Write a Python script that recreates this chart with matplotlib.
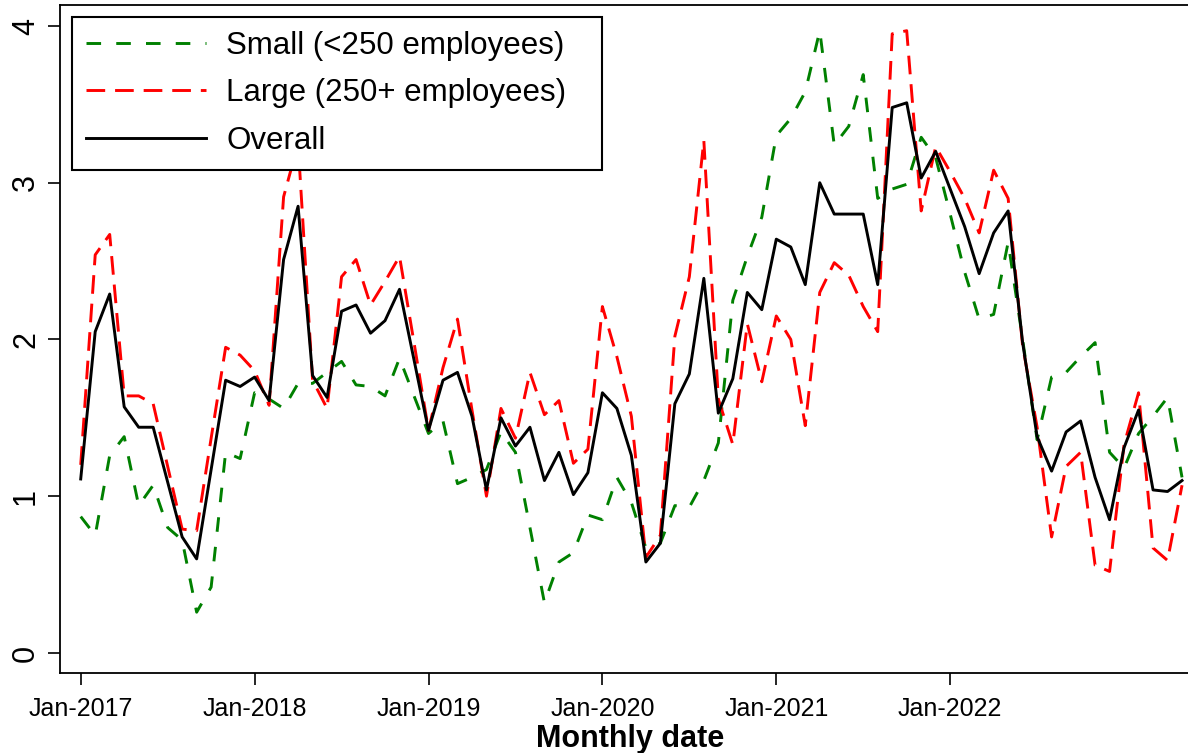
import matplotlib
matplotlib.use("Agg")
import matplotlib.pyplot as plt
import numpy as np
import pandas as pd

plt.rcParams["font.family"] = ["Liberation Sans", "DejaVu Sans"]

months = pd.period_range("2017-01", periods=77, freq="M")

small = [0.87, 0.75, 1.26, 1.38, 0.94, 1.07, 0.80, 0.72, 0.26, 0.42, 1.28, 1.24,
         1.66, 1.62, 1.56, 1.72, 1.72, 1.79, 1.86, 1.71, 1.70, 1.64, 1.88, 1.64,
         1.40, 1.48, 1.08, 1.12, 1.17, 1.41, 1.28, 0.80, 0.32, 0.58, 0.64, 0.88,
         0.85, 1.12, 0.96, 0.67, 0.70, 0.94, 0.93, 1.10, 1.34, 2.25, 2.53, 2.78,
         3.30, 3.41, 3.58, 3.97, 3.24, 3.36, 3.69, 2.90, 2.96, 2.99, 3.29, 3.16,
         2.80, 2.43, 2.13, 2.16, 2.62, 2.00, 1.36, 1.76, 1.79, 1.89, 1.98, 1.28,
         1.18, 1.40, 1.51, 1.63, 1.12]

large = [1.20, 2.54, 2.67, 1.64, 1.64, 1.59, 1.19, 0.79, 0.78, 1.37, 1.95, 1.90,
         1.80, 1.58, 2.91, 3.25, 1.74, 1.56, 2.40, 2.51, 2.22, 2.37, 2.53, 1.98,
         1.42, 1.82, 2.13, 1.55, 1.00, 1.56, 1.37, 1.79, 1.52, 1.61, 1.21, 1.30,
         2.21, 1.89, 1.51, 0.61, 0.75, 2.02, 2.40, 3.27, 1.62, 1.33, 2.10, 1.73,
         2.15, 2.00, 1.45, 2.30, 2.49, 2.41, 2.21, 2.05, 3.95, 3.97, 2.82, 3.23,
         3.07, 2.90, 2.68, 3.08, 2.90, 1.96, 1.44, 0.74, 1.19, 1.28, 0.56, 0.52,
         1.33, 1.66, 0.67, 0.59, 1.07]

overall = [1.11, 2.05, 2.29, 1.57, 1.44, 1.44, 1.09, 0.74, 0.60, 1.17, 1.74, 1.70,
           1.76, 1.61, 2.51, 2.85, 1.77, 1.63, 2.18, 2.22, 2.04, 2.12, 2.32, 1.87,
           1.42, 1.74, 1.79, 1.51, 1.04, 1.50, 1.32, 1.44, 1.10, 1.28, 1.01, 1.15,
           1.66, 1.56, 1.26, 0.58, 0.70, 1.59, 1.78, 2.39, 1.53, 1.75, 2.30, 2.19,
           2.64, 2.59, 2.35, 3.00, 2.80, 2.80, 2.80, 2.35, 3.48, 3.51, 3.03, 3.20,
           2.96, 2.72, 2.42, 2.68, 2.82, 1.98, 1.38, 1.16, 1.41, 1.48, 1.12, 0.85,
           1.31, 1.55, 1.04, 1.03, 1.10]

y_ticks = [0, 1, 2, 3, 4]

x = np.arange(len(months))
jan = [i for i, m in enumerate(months) if m.month == 1 and m.year <= 2022]
jan_labels = [months[i].strftime("%b-%Y") for i in jan]

fig = plt.figure(figsize=(11.88, 7.53), dpi=100)
ax = fig.add_axes([60 / 1188, 80 / 753, 1140 / 1188, 668 / 753])

lw = 2.1
ax.plot(x, small, color="#008000", linewidth=lw, dashes=(5.0, 5.2),
        label="Small (<250 employees)")
ax.plot(x, large, color="#ff0000", linewidth=lw, dashes=(6.4, 3.4),
        label="Large (250+ employees)")
ax.plot(x, overall, color="black", linewidth=lw, label="Overall")

ax.set_xlim(-1.43, 77.24)
ax.set_ylim(-0.128, 4.134)
ax.set_xticks(jan)
ax.set_xticklabels(jan_labels)
ax.set_yticks(y_ticks)
ax.tick_params(axis="both", direction="out", length=8.6, width=1.2, color="black")
ax.tick_params(axis="x", labelsize=18, pad=9)
ax.tick_params(axis="y", labelsize=22, pad=5, labelrotation=90)
for lab in ax.get_yticklabels():
    lab.set_va("center")

for s in ax.spines.values():
    s.set_linewidth(1.3)
    s.set_color("black")

ax.set_xlabel("Monthly date", fontsize=22, fontweight="bold", va="baseline")
ax.xaxis.set_label_coords(0.5, -0.111)

leg = ax.legend(loc="upper left", bbox_to_anchor=(0.0105, 0.762, 0.4647, 0.2205),
                mode="expand", borderaxespad=0, fontsize=22.5, handlelength=3.84,
                handletextpad=0.64, labelspacing=0.56, borderpad=0.45,
                fancybox=False, framealpha=1)
leg.get_frame().set_edgecolor("black")
leg.get_frame().set_linewidth(1.5)

fig.savefig("out.png", dpi=100)
